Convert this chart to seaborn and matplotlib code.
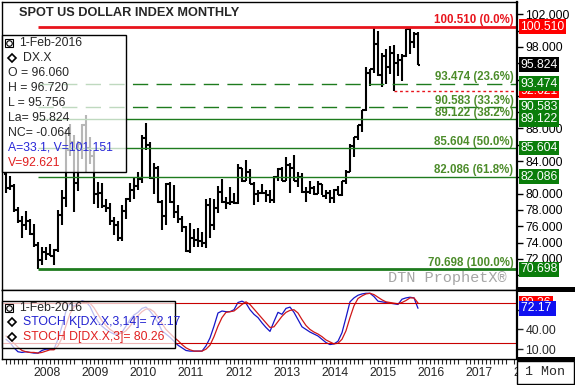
import numpy as np
import pandas as pd
import matplotlib
matplotlib.use("Agg")
import matplotlib.pyplot as plt
import matplotlib.transforms as mtransforms
from matplotlib.patches import Rectangle
from matplotlib.lines import Line2D
import seaborn as sns

# monthly bars, Jul 2007 .. Feb 2016
months = pd.date_range("2007-07-01", "2016-02-01", freq="MS")

opens = [82.4, 80.7, 80.9, 78.0, 76.6, 76.1,
         76.7, 75.0, 73.7, 71.9, 72.9, 72.6, 72.3, 73.1, 77.4, 79.5, 85.3, 86.4,
         81.3, 86.1, 88.4, 85.6, 84.6, 79.9, 80.1, 78.5, 78.2, 76.7, 76.2, 74.6,
         77.9, 79.4, 80.4, 81.0, 81.8, 86.8, 86.0, 81.9, 83.2, 79.0, 77.2, 81.2,
         79.0, 77.7, 76.9, 75.9, 73.0, 74.6, 74.3, 74.2, 73.9, 78.6, 76.2, 78.3,
         80.2, 79.0, 78.9, 79.0, 78.8, 83.1, 81.6, 82.6, 81.2, 79.9, 80.1, 80.1,
         79.8, 79.2, 82.1, 83.0, 81.6, 83.5, 83.1, 81.5, 82.1, 80.2, 80.2, 80.7,
         80.0, 81.2, 79.7, 80.1, 79.5, 80.4, 79.8, 81.5, 82.7, 85.9, 86.9, 88.4,
         90.3, 94.8, 95.3, 98.4, 94.6, 96.9, 95.5, 97.3, 96.0, 96.4, 96.9, 100.2,
         98.6, 99.6]
highs = [82.5, 82.2, 81.2, 78.4, 77.2, 77.9,
         76.9, 76.3, 74.1, 73.4, 73.4, 73.8, 73.2, 78.0, 80.4, 87.9, 88.5, 87.2,
         86.5, 88.5, 89.6, 87.0, 85.2, 81.4, 81.3, 79.4, 78.9, 77.1, 76.6, 78.6,
         79.5, 81.3, 81.9, 82.6, 87.2, 88.7, 86.4, 83.8, 83.4, 79.2, 81.3, 81.4,
         81.1, 78.6, 77.2, 76.0, 76.4, 75.7, 75.8, 75.3, 79.3, 79.5, 79.4, 80.9,
         81.8, 79.6, 80.8, 80.1, 83.6, 83.2, 84.1, 83.0, 81.4, 80.4, 81.2, 80.4,
         80.5, 82.2, 83.2, 83.3, 84.5, 83.8, 84.8, 82.6, 82.5, 80.8, 81.5, 81.0,
         81.5, 81.2, 80.5, 80.4, 80.6, 81.0, 81.6, 82.9, 86.1, 86.9, 88.4, 90.3,
         95.5, 95.3, 100.4, 100.0, 97.3, 97.8, 98.1, 98.3, 97.1, 97.2, 100.2, 100.5,
         99.9, 99.8]
lows = [80.1, 80.4, 77.7, 76.4, 74.5, 75.6,
        74.9, 73.4, 70.7, 71.3, 71.8, 72.3, 71.3, 72.8, 76.2, 78.4, 84.6, 77.7,
        80.3, 84.3, 82.6, 83.6, 78.7, 78.3, 78.2, 77.7, 76.1, 74.9, 74.2, 74.2,
        76.9, 79.0, 79.4, 80.4, 81.3, 85.3, 81.8, 80.0, 78.8, 75.6, 76.1, 78.9,
        77.0, 76.4, 75.3, 72.9, 72.7, 73.5, 73.4, 73.4, 73.3, 74.6, 75.6, 77.6,
        78.9, 78.1, 78.6, 78.7, 78.7, 81.4, 81.5, 81.2, 78.6, 79.0, 79.9, 79.0,
        78.9, 78.9, 81.6, 81.6, 81.5, 80.1, 81.5, 80.8, 80.1, 79.0, 80.0, 79.8,
        79.9, 79.8, 79.3, 78.9, 78.9, 79.8, 79.7, 81.2, 82.6, 84.5, 86.6, 87.6,
        90.2, 93.2, 94.8, 94.5, 93.1, 93.5, 94.7, 92.6, 94.5, 93.8, 96.8, 97.2,
        97.9, 95.8]
closes = [80.7, 80.9, 78.0, 76.6, 76.1, 76.7,
          75.0, 73.7, 71.9, 72.9, 72.6, 72.3, 73.1, 77.4, 79.5, 85.3, 86.4, 81.3,
          86.1, 88.4, 85.6, 84.6, 79.9, 80.1, 78.5, 78.2, 76.7, 76.2, 74.6, 77.9,
          79.4, 80.4, 81.0, 81.8, 86.8, 86.0, 81.9, 83.2, 79.0, 77.2, 81.2, 79.0,
          77.7, 76.9, 75.9, 73.0, 74.6, 74.3, 74.2, 73.9, 78.6, 76.2, 78.3, 80.2,
          79.0, 78.9, 79.0, 78.8, 83.1, 81.6, 82.6, 81.2, 79.9, 80.1, 80.1, 79.8,
          79.2, 82.1, 83.0, 81.6, 83.5, 83.1, 81.5, 82.1, 80.2, 80.2, 80.7, 80.0,
          81.2, 79.7, 80.1, 79.5, 80.4, 79.8, 81.5, 82.7, 85.9, 86.9, 88.4, 90.3,
          94.8, 95.3, 98.4, 94.6, 96.9, 95.5, 97.3, 96.0, 96.4, 96.9, 100.2, 98.6,
          99.6, 95.824]

stoch_k = [25, 20, 12, 6, 5, 6,
           5, 4, 4, 8, 10, 10, 10, 25, 45, 68, 80, 75,
           80, 83, 82, 75, 62, 52, 45, 40, 36, 33, 32, 36,
           45, 55, 62, 66, 72, 74, 68, 60, 50, 38, 33, 28,
           22, 16, 12, 8, 7, 7, 7, 7, 15, 27, 45, 65,
           68, 67, 67, 70, 81, 83, 80, 70, 63, 58, 50, 43,
           37, 52, 66, 63, 72, 74, 66, 55, 44, 40, 36, 33,
           30, 25, 20, 17, 18, 22, 35, 58, 82, 88, 92, 94,
           95, 95, 90, 83, 82, 81, 80, 79, 78, 86, 88, 89,
           88, 72.17]
stoch_d = [30, 25, 19, 13, 8, 6,
           5, 5, 4, 5, 7, 9, 9, 15, 27, 46, 64, 74,
           78, 80, 82, 80, 73, 63, 53, 46, 40, 36, 34, 34,
           38, 45, 54, 61, 67, 71, 71, 67, 59, 49, 40, 34,
           28, 23, 17, 12, 9, 7, 7, 7, 10, 16, 29, 45,
           58, 66, 67, 68, 73, 78, 82, 78, 71, 64, 57, 50,
           43, 44, 52, 60, 66, 69, 70, 65, 55, 46, 40, 36,
           33, 29, 24, 21, 18, 19, 25, 38, 58, 76, 87, 91,
           94, 95, 93, 89, 85, 82, 81, 80, 79, 81, 84, 88,
           88, 80.26]

fib_levels = [100.510, 93.474, 90.583, 89.122, 85.604, 82.086, 70.698]
fib_pcts = ["0.0%", "23.6%", "33.3%", "38.2%", "50.0%", "61.8%", "100.0%"]
fib_start = pd.Timestamp("2008-03-01")
v_level = 92.621
v_start = pd.Timestamp("2015-08-01")
last_close = 95.824
years = list(range(2008, 2019))
price_ticks = list(range(70, 104, 2))
price_tick_labels = ["102.000", "98.000", "88.000", "84.000", "80.000", "78.000", "76.000",
                     "74.000", "72.000"]
stoch_ticks = [10, 40, 70]
stoch_tick_labels = ["10.00", "40.00"]
info_lines = ["O = 96.060", "H = 96.720", "L = 95.756", "La= 95.824", "NC= -0.064"]


def to_x(d):
    return d.year + (d.month - 1) / 12


df = pd.DataFrame({"x": [to_x(d) for d in months], "open": opens, "high": highs,
                   "low": lows, "close": closes, "k": stoch_k, "d": stoch_d})

sns.set_style("white")
plt.rcParams["font.family"] = ["Liberation Sans", "DejaVu Sans"]

W, H = 575, 385
fig = plt.figure(figsize=(W / 100, H / 100), dpi=100)


def fx(px):
    return px / W


def fy(py):
    return 1 - py / H


ax = fig.add_axes([fx(2), fy(290), fx(517) - fx(2), fy(2) - fy(290)])
ax2 = fig.add_axes([fx(2), fy(359), fx(517) - fx(2), fy(290) - fy(359)], sharex=ax)

XMIN, XMAX = 2007.417, 2018.146
GREEN = "#1E7B1E"
GREEN_TXT = "#4C8C2A"
RED = "#E8141C"

# ---------------- price bars ----------------
tk = 0.05
ax.vlines(df.x, df.low, df.high, color="black", lw=1.5)
ax.hlines(df.open, df.x - tk, df.x, color="black", lw=1.5)
ax.hlines(df.close, df.x, df.x + tk, color="black", lw=1.5)

x0 = to_x(fib_start)
for lvl, pct in zip(fib_levels, fib_pcts):
    if pct == "0.0%":
        ax.hlines(lvl, x0, XMAX, color=RED, lw=2)
    elif pct in ("23.6%", "33.3%"):
        ax.hlines(lvl, x0, XMAX, color=GREEN, lw=1, linestyles=[(0, (11, 6))])
    elif pct == "100.0%":
        ax.hlines(lvl, x0, XMAX, color=GREEN, lw=2)
    else:
        ax.hlines(lvl, x0, XMAX, color=GREEN, lw=1)
ax.hlines(v_level, to_x(v_start), XMAX, color=RED, lw=1, linestyles=[(0, (2, 2))])

lab_tr = mtransforms.offset_copy(mtransforms.blended_transform_factory(ax.transAxes, ax.transData),
                                 fig=fig, y=2.5, units="points")
for lvl, pct in zip(fib_levels, fib_pcts):
    ax.text(0.993, lvl, f"{lvl:.3f} ({pct})", transform=lab_tr, ha="right", va="baseline",
            fontsize=8.3, fontweight="bold", color=RED if pct == "0.0%" else GREEN_TXT)


def tick_text(labels, fmt):
    return lambda v, pos: fmt % v if (fmt % v) in labels else ""


ax.set_xlim(XMIN, XMAX)
ax.set_ylim(68.18, 103.52)
ax.yaxis.tick_right()
ax.set_yticks(price_ticks)
ax.yaxis.set_major_formatter(tick_text(price_tick_labels, "%.3f"))
ax.tick_params(axis="y", direction="out", length=4, width=1, labelsize=8.8, pad=2, colors="black")
ax.tick_params(axis="x", bottom=False, labelbottom=False)

ytr = mtransforms.blended_transform_factory(ax.transAxes, ax.transData)


def tag(a, tr, val, s, fc):
    a.text(1.007, val, s, transform=tr, ha="left", va="center", color="white", fontsize=8.8,
           bbox=dict(boxstyle="square,pad=0.12", fc=fc, ec="none"), zorder=10, clip_on=False)


tag(ax, ytr, fib_levels[0], f"{fib_levels[0]:.3f}", "#FF0000")
tag(ax, ytr, last_close, f"{last_close:.3f}", "black")
tag(ax, ytr, v_level, f"{v_level:.3f}", "#FF0000")
for lvl in fib_levels[1:]:
    tag(ax, ytr, lvl, f"{lvl:.3f}", "#0A7D0A")

fig.text(fx(19), fy(13), "SPOT US DOLLAR INDEX MONTHLY", ha="left", va="center",
         fontsize=9.2, fontweight="bold")
fig.text(fx(507), fy(278), "DTN ProphetX\u00ae", ha="right", va="center", family="Liberation Mono",
         fontsize=11, color="#A6A6A6")

# ---------------- stochastic ----------------
sns.lineplot(x=df.x, y=df.k, ax=ax2, color="#1515C8", lw=0.9)
sns.lineplot(x=df.x, y=df.d, ax=ax2, color="#D01818", lw=0.9)
ax2.axhline(80, color="#C80000", lw=0.8)
ax2.axhline(20, color="#C80000", lw=0.8)
ax2.set_ylim(-5, 100)
ax2.set_xlabel("")
ax2.set_ylabel("")
ax2.yaxis.tick_right()
ax2.set_yticks(stoch_ticks)
ax2.yaxis.set_major_formatter(tick_text(stoch_tick_labels, "%.2f"))
ax2.tick_params(axis="y", direction="out", length=4, width=1, labelsize=8.8, pad=2)
ax2.set_xticks(years)
ax2.set_xticks(np.arange(2007.5, XMAX, 1 / 12), minor=True)
ax2.tick_params(axis="x", which="major", direction="out", length=7, width=1, labelbottom=False)
ax2.tick_params(axis="x", which="minor", direction="out", length=3.5, width=0.8, bottom=True)
ax2.set_xlim(XMIN, XMAX)

str2 = mtransforms.blended_transform_factory(ax2.transAxes, ax2.transData)
tag(ax2, str2, stoch_d[-1], f"{stoch_d[-1]:.2f}", "#FF0000")
tag(ax2, str2, stoch_k[-1], f"{stoch_k[-1]:.2f} ", "#1010F0")

xtr = mtransforms.blended_transform_factory(ax2.transData, fig.transFigure)
for yr in years:
    ax2.text(yr + 0.07, fy(373), str(yr), transform=xtr, ha="left", va="center", fontsize=8.8)

for a in (ax, ax2):
    for s in a.spines.values():
        s.set_color("black")
        s.set_linewidth(1)
    a.spines["right"].set_linewidth(1.6)


# ---------------- legend boxes ----------------
def legend_box(x1, y1, x2, y2):
    fig.add_artist(Rectangle((fx(x1), fy(y2)), (x2 - x1) / W, (y2 - y1) / H, transform=fig.transFigure,
                             fc=(1, 1, 1, 0.72), ec="black", lw=1, zorder=5))


def icon(y):
    fig.add_artist(Rectangle((fx(5), fy(y + 4)), 8 / W, 8 / H, transform=fig.transFigure,
                             fill=False, ec="black", lw=0.8, zorder=6))
    fig.add_artist(Line2D([fx(9)], [fy(y)], marker="o", ms=4, mfc="none", mec="black", mew=0.8,
                          transform=fig.transFigure, zorder=6))


def diamond(y):
    fig.add_artist(Line2D([fx(12)], [fy(y)], marker="D", ms=4.5, mfc="white", mec="black", mew=1.2,
                          transform=fig.transFigure, zorder=6))


legend_box(2, 35, 126, 172)
icon(43)
fig.text(fx(19), fy(43), "1-Feb-2016", va="center", fontsize=8.8, zorder=6)
diamond(58)
fig.text(fx(23), fy(58), "DX.X", va="center", fontsize=8.8, zorder=6)
for i, s in enumerate(info_lines):
    fig.text(fx(8), fy(73 + 15 * i), s, va="center", fontsize=8.8, zorder=6)
fig.text(fx(8), fy(148), "A=33.1, V=101.151", va="center", fontsize=8.8, color="#2828D8", zorder=6)
fig.text(fx(8), fy(163), f"V={v_level:.3f}", va="center", fontsize=8.8, color="#E02020", zorder=6)

legend_box(2, 301, 175, 348)
icon(308)
fig.text(fx(19), fy(308), "1-Feb-2016", va="center", fontsize=8.8, zorder=6)
diamond(322)
fig.text(fx(23), fy(322), f"STOCH K[DX.X,3,14]= {stoch_k[-1]:.2f}", va="center", fontsize=8.8,
         color="#2020D0", zorder=6)
diamond(337)
fig.text(fx(23), fy(337), f"STOCH D[DX.X,3]= {stoch_d[-1]:.2f}", va="center", fontsize=8.8,
         color="#E02020", zorder=6)

# right side frame pieces
fig.add_artist(Rectangle((fx(517), fy(292)), 58 / W, 5 / H, transform=fig.transFigure, fc="black",
                         ec="none", zorder=5))
fig.add_artist(Rectangle((fx(517), fy(361)), 58 / W, 4 / H, transform=fig.transFigure, fc="black",
                         ec="none", zorder=5))
fig.add_artist(Rectangle((fx(517), fy(384)), 57 / W, 23 / H, transform=fig.transFigure, fc="white",
                         ec="black", lw=1, zorder=5))
fig.text(fx(545), fy(372), "1 Mon", ha="center", va="center", family="Liberation Mono", fontsize=9.5,
         zorder=6)

fig.savefig("out.png", dpi=100)
